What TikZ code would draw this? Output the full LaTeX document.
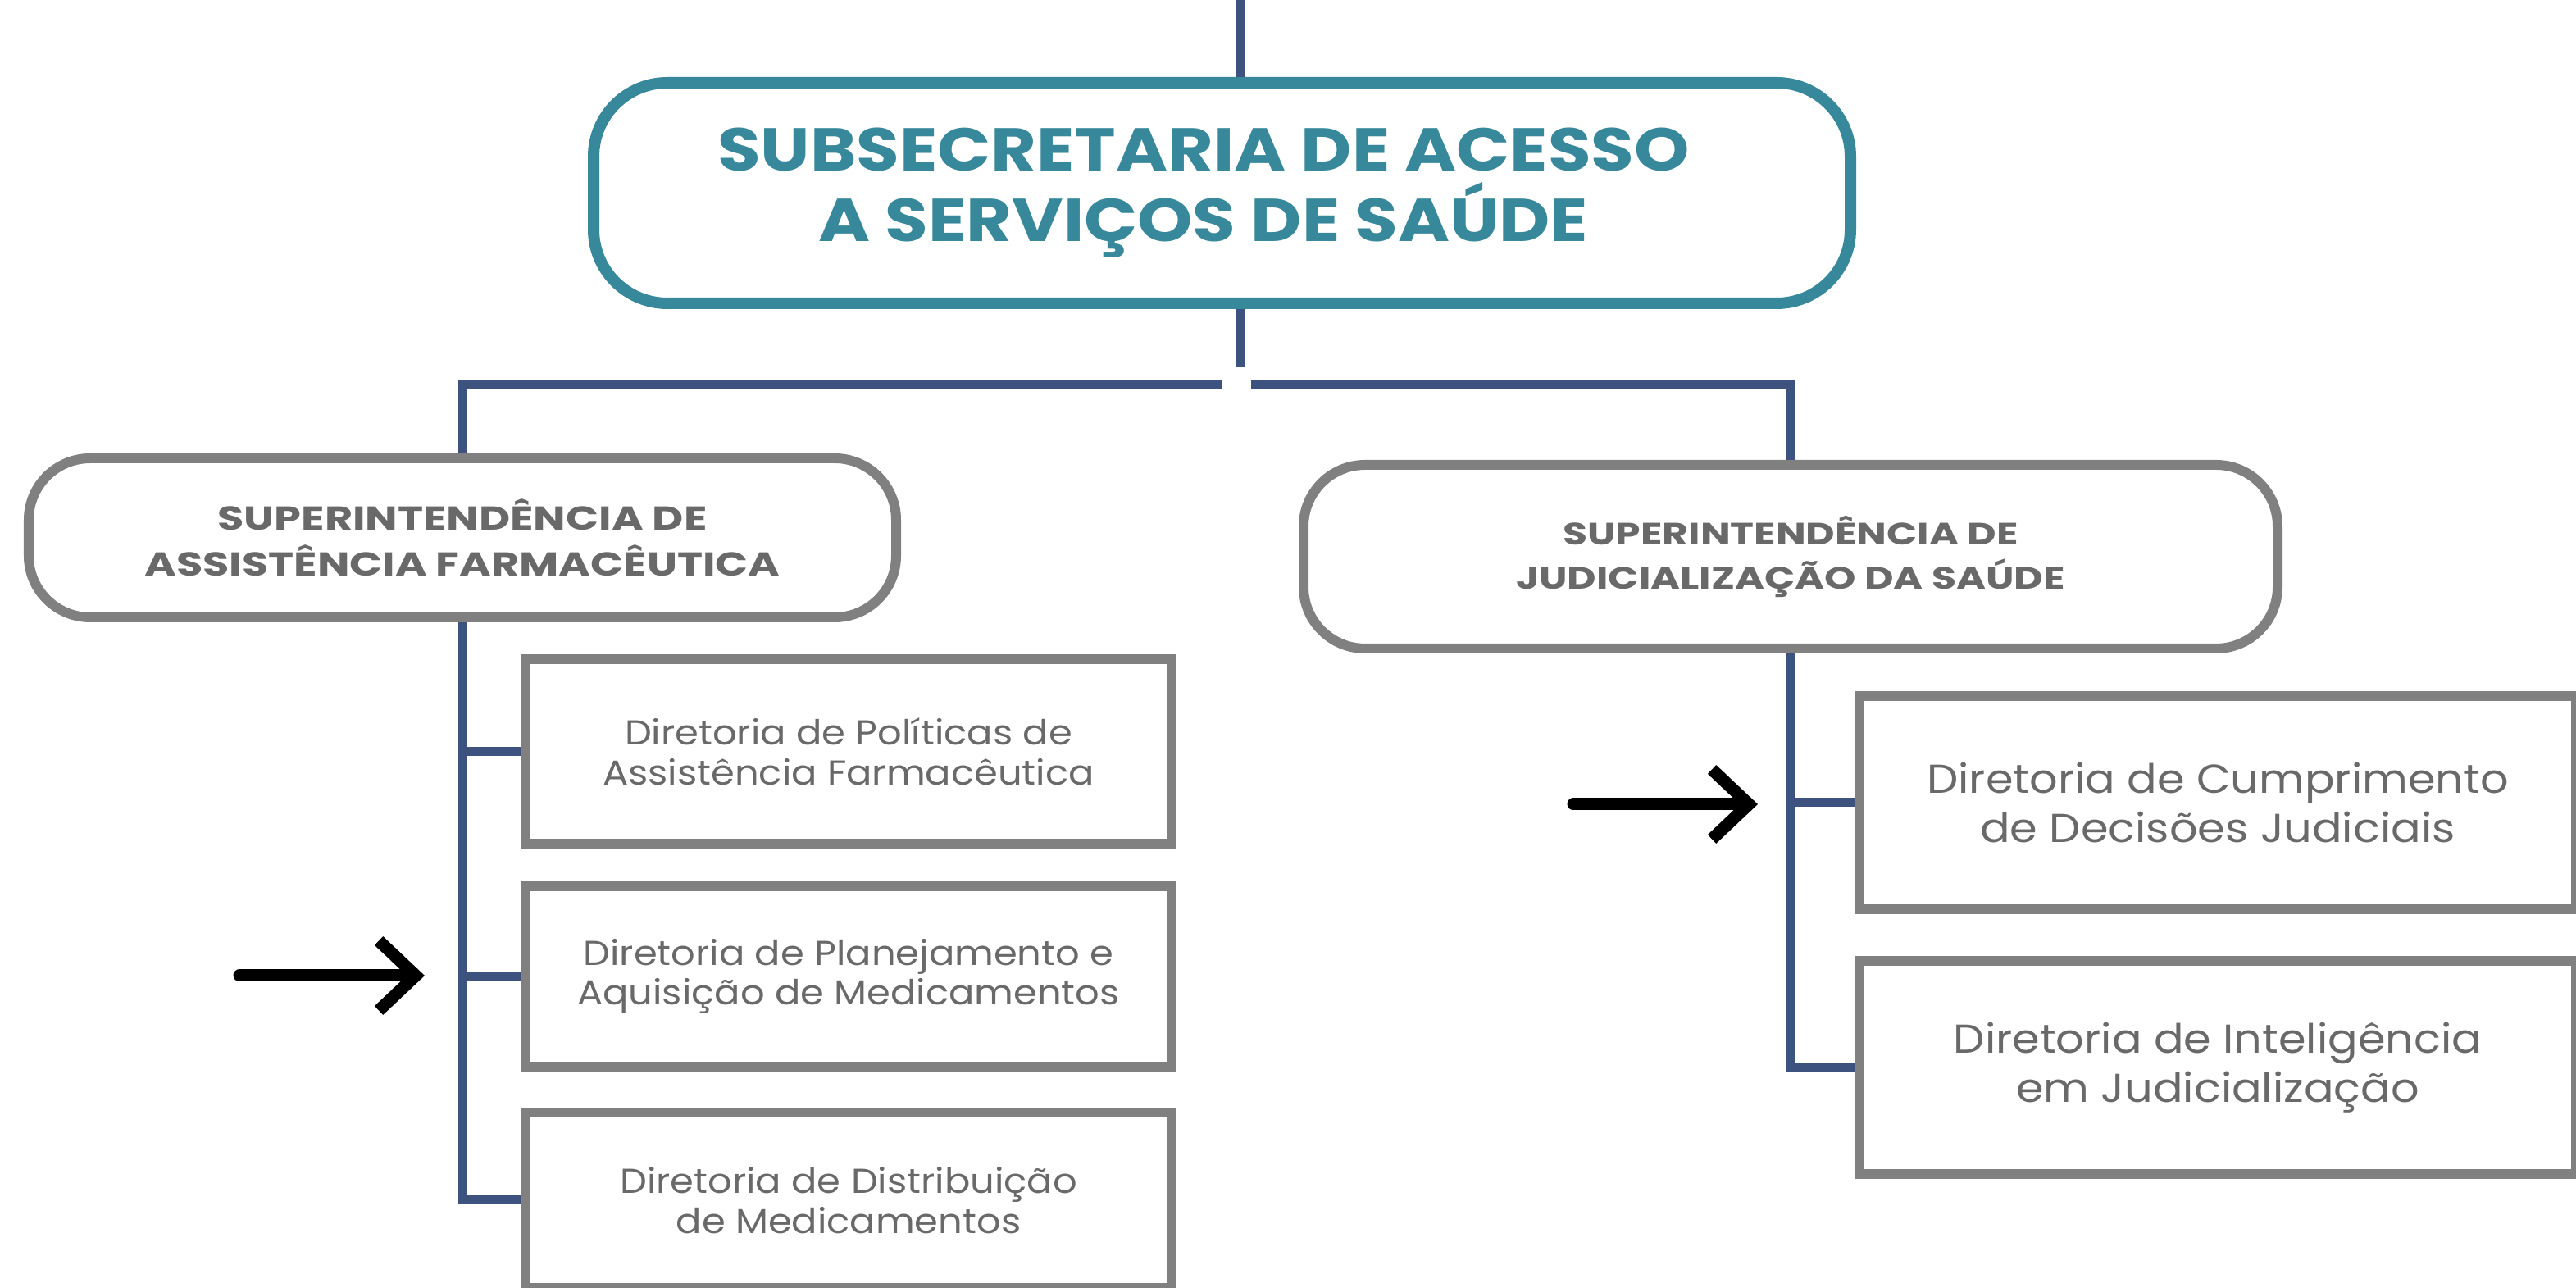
\documentclass[tikz,border=0pt]{standalone}
\usepackage{fontspec}
\setmainfont{Poppins}
\newfontfamily\headfont[FakeStretch=1.16]{Poppins}
\newfontfamily\superfont[FakeStretch=1.3]{Poppins}
\newfontfamily\bodyfont[FakeStretch=1.1]{Poppins}
\usetikzlibrary{arrows.meta}
\usetikzlibrary{positioning}
\usepackage{color}

\definecolor{tealline}{RGB}{56,136,155}
\definecolor{linkblue}{RGB}{62,82,128}
\definecolor{boxgray}{RGB}{128,128,128}
\definecolor{textgray}{RGB}{105,105,105}

\tikzset{
    headbox/.style={draw=tealline,line width=0.14cm,rounded corners=0.9cm,anchor=north west,inner sep=0pt,align=center,text=tealline,font=\headfont\bfseries\fontsize{21}{24.5}\selectfont},
    superbox/.style={draw=boxgray,line width=0.12cm,rounded corners=0.75cm,anchor=north west,inner sep=0pt,align=center,text=textgray,font=\superfont\bfseries\fontsize{11.5}{16}\selectfont},
    dirbox/.style={draw=boxgray,line width=0.12cm,anchor=north west,inner sep=0pt,align=center,text=textgray},
    link/.style={draw=linkblue,line width=0.11cm},
    pointer/.style={draw=black,line width=0.15cm,line cap=round,-{Straight Barb[length=0.45cm,width=0.85cm]}}
}

\begin{document}
\begin{tikzpicture}
    \useasboundingbox (0,0) rectangle (31.42,15.71);

    % boxes
    \node[headbox,minimum width=15.33cm,minimum height=2.69cm] (subsec) at (7.17,14.77) {\hspace*{-0.45cm}SUBSECRETARIA DE ACESSO\\\hspace*{-0.45cm}A SERVIÇOS DE SAÚDE};

    \node[superbox,minimum width=10.58cm,minimum height=1.94cm] (supfarm) at (0.29,10.18) {SUPERINTENDÊNCIA DE\\ASSISTÊNCIA FARMACÊUTICA};
    \node[superbox,minimum width=11.88cm,minimum height=2.24cm,font=\superfont\bfseries\fontsize{10.7}{15.5}\selectfont] (supjud) at (15.84,10.10) {SUPERINTENDÊNCIA DE\\JUDICIALIZAÇÃO DA SAÚDE};

    \node[dirbox,minimum width=7.88cm,minimum height=2.25cm,font=\bodyfont\fontsize{12}{13.8}\selectfont] (dirpol) at (6.35,7.73) {Diretoria de Políticas de\\Assistência Farmacêutica};
    \node[dirbox,minimum width=7.88cm,minimum height=2.20cm,font=\bodyfont\fontsize{12}{13.8}\selectfont] (dirplan) at (6.35,4.96) {Diretoria de Planejamento e\\Aquisição de Medicamentos};
    \node[dirbox,minimum width=7.88cm,minimum height=2.14cm,font=\bodyfont\fontsize{12}{13.8}\selectfont] (dirdist) at (6.35,2.20) {Diretoria de Distribuição\\de Medicamentos};

    \node[dirbox,minimum width=8.74cm,minimum height=2.60cm,font=\bodyfont\fontsize{14}{17}\selectfont] (dircump) at (22.62,7.28) {Diretoria de Cumprimento\\de Decisões Judiciais};
    \node[dirbox,minimum width=8.74cm,minimum height=2.60cm,font=\bodyfont\fontsize{14}{17}\selectfont] (dirint) at (22.62,4.05) {Diretoria de Inteligência\\em Judicialização};

    % connectors
    \coordinate (topin) at (15.12,15.71);
    \coordinate (stemend) at (15.12,11.23);
    \coordinate (gapL) at (14.91,11.01);
    \coordinate (gapR) at (15.26,11.01);
    \draw[link] (topin) -- (topin |- subsec.north);
    \draw[link] (topin |- subsec.south) -- (stemend);
    \draw[link] (supfarm.north) |- (gapL);
    \draw[link] (supjud.north) |- (gapR);

    \draw[link] (supfarm.south) |- (dirdist.west);
    \foreach \d in {dirpol,dirplan}
        \draw[link] (supfarm.south |- \d.west) -- (\d.west);
    \draw[link] (supjud.south) |- (dirint.west);
    \draw[link] (supjud.south |- dircump.west) -- (dircump.west);

    % arrows
    \coordinate (ptrA) at (2.92,3.81);
    \coordinate (ptrAtip) at (5.18,3.81);
    \coordinate (ptrB) at (19.19,5.90);
    \coordinate (ptrBtip) at (21.44,5.90);
    \draw[pointer] (ptrA) -- (ptrAtip);
    \draw[pointer] (ptrB) -- (ptrBtip);
\end{tikzpicture}
\end{document}
